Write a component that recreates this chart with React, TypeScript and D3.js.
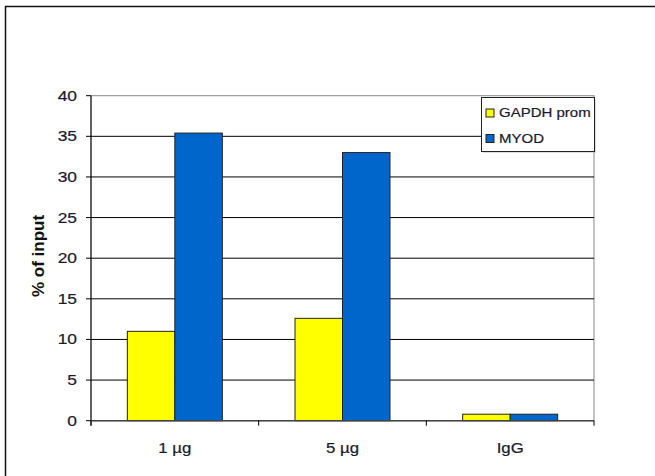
import React from "react";
import * as d3 from "d3";

const categories = ["1 µg", "5 µg", "IgG"];
const seriesNames = ["GAPDH prom", "MYOD"];
const gapdhValues = [11.0, 12.6, 0.8];
const myodValues = [35.4, 33.0, 0.8];
const yTicks = [0, 5, 10, 15, 20, 25, 30, 35, 40];
const seriesColors = ["#FFFF00", "#0066CC"];

const W = 655;
const H = 476;
const plotLeft = 91;
const plotRight = 594;
const plotTop = 95.7;
const plotBottom = 420.7;
const SX = 1.2;
const FONT = "'Liberation Sans', Arial, sans-serif";

export default function App() {
  const x0 = d3.scaleBand<string>().domain(categories).range([plotLeft, plotRight]).padding(0);
  const x1 = d3
    .scaleBand<string>()
    .domain(seriesNames)
    .range([0, x0.bandwidth()])
    .paddingInner(0)
    .paddingOuter(0.765);
  const y = d3.scaleLinear().domain([0, 40]).range([plotBottom, plotTop]);
  const seriesValues = [gapdhValues, myodValues];

  const stretchText = (
    key: string,
    x: number,
    yy: number,
    txt: string,
    anchor: "start" | "middle" | "end",
    size: number
  ) => (
    <g key={key} transform={`translate(${x},${yy}) scale(${SX},1)`}>
      <text
        x={0}
        y={0}
        textAnchor={anchor}
        dominantBaseline="central"
        fontFamily={FONT}
        fontSize={size}
        fill="#1a1a2e"
        stroke="#1a1a2e"
        strokeWidth={0.2}
      >
        {txt}
      </text>
    </g>
  );

  const boundaries = [plotLeft, ...categories.map((c) => (x0(c) as number) + x0.bandwidth())];

  return (
    <svg
      width={W}
      height={H}
      style={{ position: "absolute", left: 0, top: 0, background: "#fff" }}
    >
      <rect x={0} y={0} width={W} height={H} fill="#fff" />
      {/* outer chart border */}
      <rect x={5.5} y={6.5} width={W + 10} height={H + 10} fill="none" stroke="#111" strokeWidth={1.5} />

      {/* plot area border (gray) */}
      <rect
        x={plotLeft}
        y={plotTop}
        width={plotRight - plotLeft}
        height={plotBottom - plotTop}
        fill="none"
        stroke="#888"
        strokeWidth={1}
      />

      {/* gridlines */}
      {yTicks
        .filter((t) => t > 0 && t < 40)
        .map((t) => (
          <line
            key={"g" + t}
            x1={plotLeft}
            x2={plotRight}
            y1={y(t)}
            y2={y(t)}
            stroke="#000"
            strokeWidth={1}
          />
        ))}

      {/* bars */}
      {categories.map((c, ci) =>
        seriesNames.map((s, si) => {
          const v = seriesValues[si][ci];
          const bx = (x0(c) as number) + (x1(s) as number);
          return (
            <rect
              key={c + s}
              x={bx}
              y={y(v)}
              width={x1.bandwidth()}
              height={plotBottom - y(v)}
              fill={seriesColors[si]}
              stroke="#222"
              strokeWidth={1}
            />
          );
        })
      )}

      {/* y axis */}
      <line x1={plotLeft} x2={plotLeft} y1={plotTop} y2={plotBottom + 5} stroke="#000" strokeWidth={1} />
      {yTicks.map((t) => (
        <g key={"yt" + t}>
          <line x1={plotLeft - 5} x2={plotLeft} y1={y(t)} y2={y(t)} stroke="#000" strokeWidth={1} />
          {stretchText("yl" + t, 77, y(t), String(t), "end", 14.5)}
        </g>
      ))}

      {/* x axis */}
      <line x1={plotLeft} x2={plotRight} y1={plotBottom} y2={plotBottom} stroke="#444" strokeWidth={1.5} />
      {boundaries.map((bx, i) => (
        <line key={"xt" + i} x1={bx} x2={bx} y1={plotBottom} y2={plotBottom + 5} stroke="#000" strokeWidth={1} />
      ))}
      {categories.map((c) =>
        stretchText("xl" + c, (x0(c) as number) + x0.bandwidth() / 2, 448, c, "middle", 14)
      )}

      {/* y axis title */}
      <text
        transform={`translate(38,256) rotate(-90)`}
        textAnchor="middle"
        dominantBaseline="central"
        fontFamily={FONT}
        fontWeight="bold"
        fontSize={17}
        fill="#111"
      >
        % of input
      </text>

      {/* legend */}
      <rect x={483} y={99} width={113} height={54} fill="#bbb" opacity={0.5} />
      <rect x={481.5} y={97.5} width={113} height={54} fill="#fff" stroke="#222" strokeWidth={1} />
      {seriesNames.map((s, i) => (
        <g key={"lg" + s}>
          <rect
            x={486}
            y={109 + i * 25.5}
            width={8}
            height={8}
            fill={seriesColors[i]}
            stroke="#222"
            strokeWidth={1}
          />
          {stretchText("lt" + s, 499, 113 + i * 25.5, s, "start", 12.5)}
        </g>
      ))}
    </svg>
  );
}
